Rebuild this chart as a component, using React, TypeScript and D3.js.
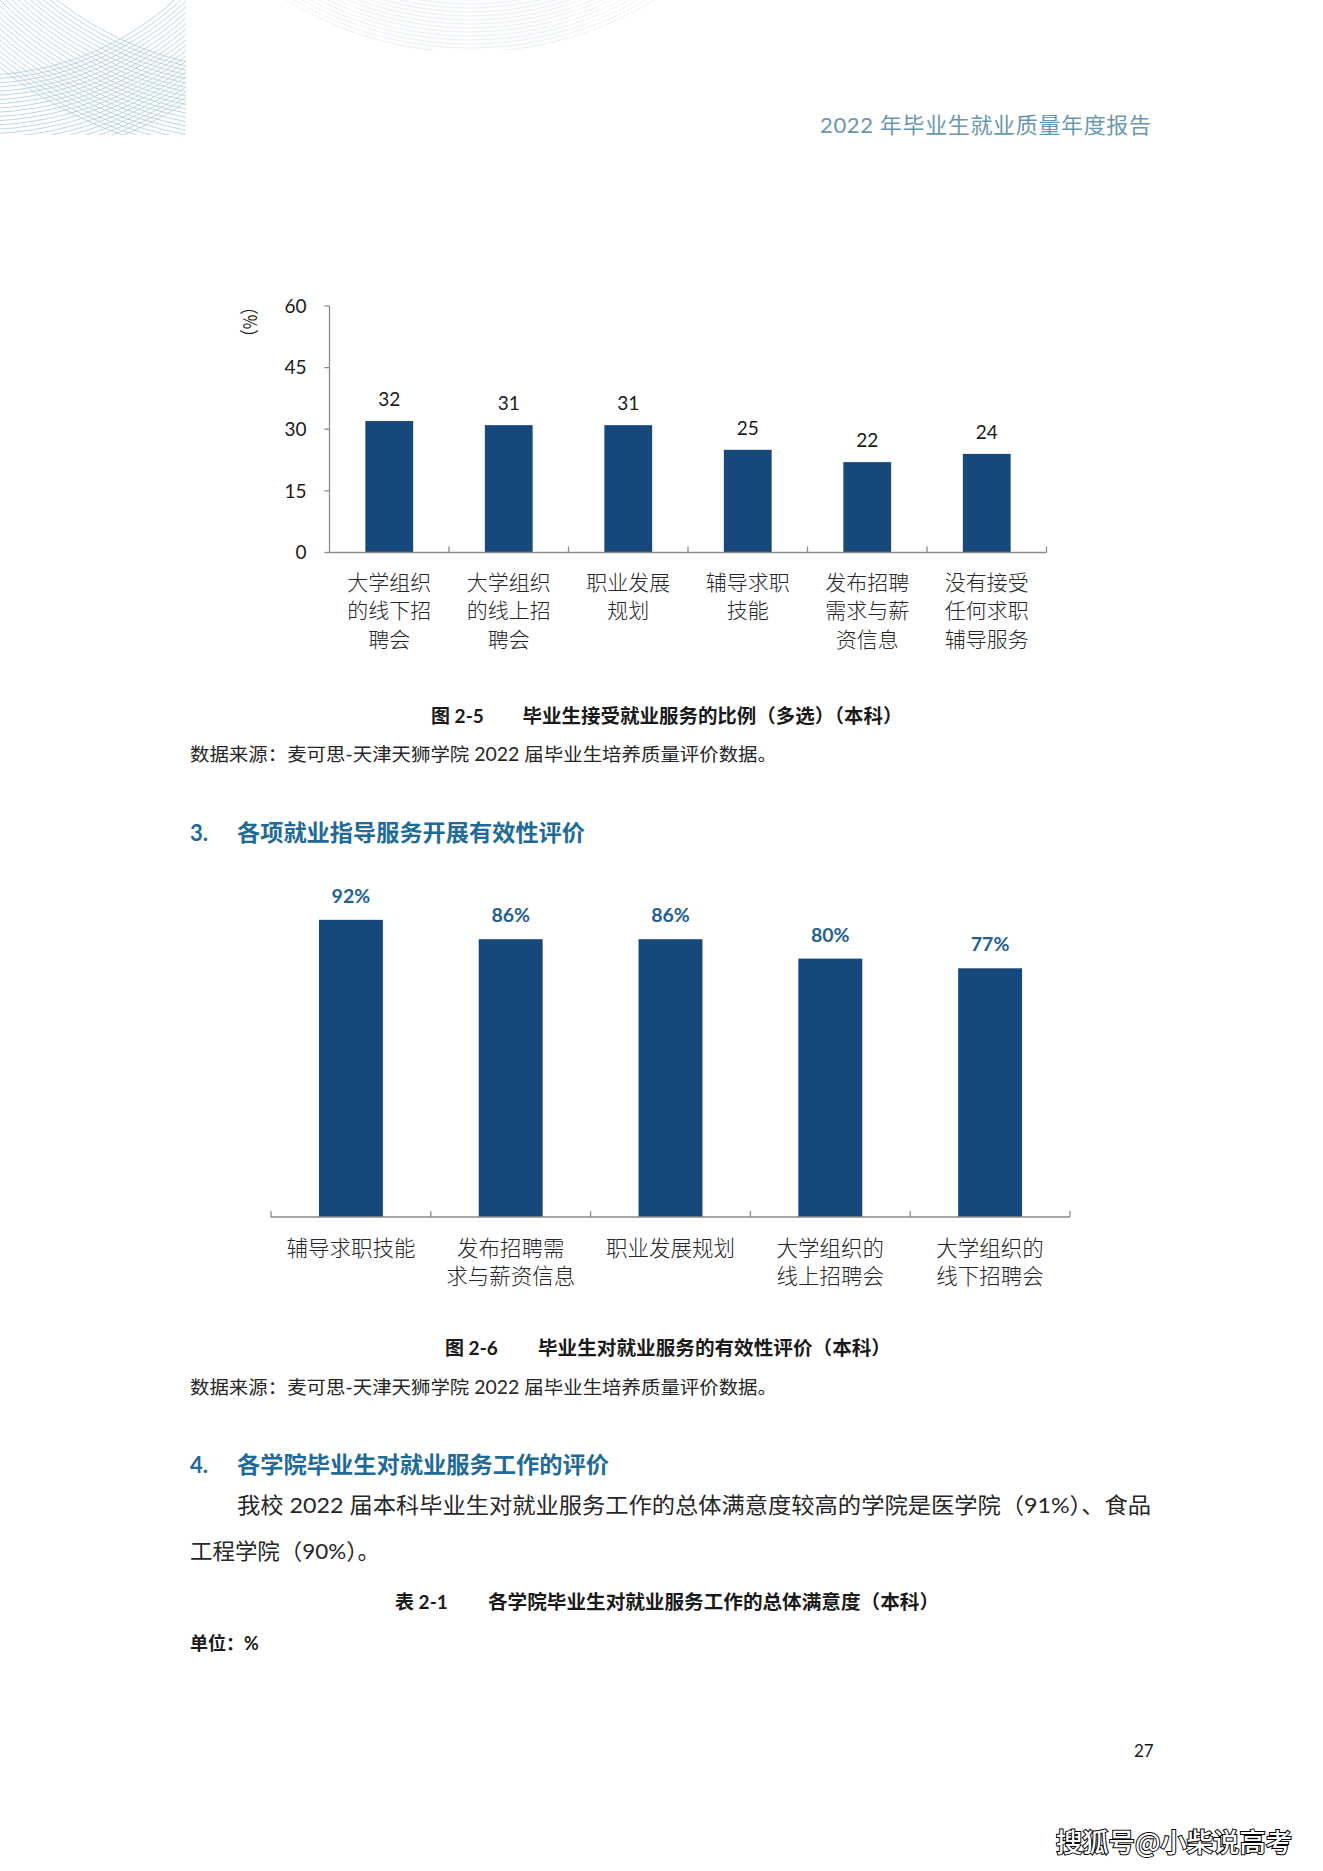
import React from "react";
import * as d3 from "d3";

// ---------- data ----------
const chart1Categories: string[][] = [
  ["大学组织", "的线下招", "聘会"],
  ["大学组织", "的线上招", "聘会"],
  ["职业发展", "规划"],
  ["辅导求职", "技能"],
  ["发布招聘", "需求与薪", "资信息"],
  ["没有接受", "任何求职", "辅导服务"],
];
const chart1Values: number[] = [32, 31, 31, 25, 22, 24];
const chart1Ticks: number[] = [0, 15, 30, 45, 60];

const chart2Categories: string[][] = [
  ["辅导求职技能"],
  ["发布招聘需", "求与薪资信息"],
  ["职业发展规划"],
  ["大学组织的", "线上招聘会"],
  ["大学组织的", "线下招聘会"],
];
const chart2Values: number[] = [92, 86, 86, 80, 77];

// ---------- style ----------
const BAR = "#17487b";
const AXIS = "#8a8a8a";
const TEAL = "#1e6a98";
const CJK = "'Noto Sans CJK SC', 'Noto Sans', sans-serif";
const MIX = "Lato, 'Noto Sans CJK SC', sans-serif";

function Decoration() {
  const famA = d3.range(0, 22).map((i) => 290 + i * 4.2);
  const famB = d3.range(0, 22).map((i) => 330 + i * 4.2);
  const famC = d3.range(0, 14).map((i) => 300 + i * 4);
  return (
    <g>
      <defs>
        <clipPath id="decoClip">
          <rect x={0} y={0} width={186} height={135} />
        </clipPath>
        <clipPath id="decoClip2">
          <rect x={200} y={0} width={600} height={50} />
        </clipPath>
      </defs>
      <g clipPath="url(#decoClip)" fill="none" stroke="#9fc3da" strokeWidth={0.8} opacity={0.85}>
        {famA.map((r, i) => (
          <circle key={"a" + i} cx={-20} cy={-215} r={r} />
        ))}
        {famB.map((r, i) => (
          <circle key={"b" + i} cx={260} cy={-260} r={r} />
        ))}
      </g>
      <g clipPath="url(#decoClip2)" fill="none" stroke="#dde9f1" strokeWidth={0.8} opacity={0.8}>
        {famC.map((r, i) => (
          <circle key={"c" + i} cx={470} cy={-300} r={r} />
        ))}
      </g>
    </g>
  );
}

function Chart1() {
  const x0 = 329.5,
    x1 = 1046.5,
    yZero = 552.5,
    yTop = 306;
  const x = d3
    .scaleBand<number>()
    .domain(d3.range(chart1Values.length))
    .range([x0, x1])
    .paddingInner(0.6)
    .paddingOuter(0.3);
  const y = d3.scaleLinear().domain([0, 60]).range([yZero, yTop]);
  const step = x.step();
  return (
    <g>
      {/* y axis */}
      <line x1={x0} x2={x0} y1={yTop} y2={yZero} stroke={AXIS} strokeWidth={1.3} />
      {chart1Ticks.map((t) => (
        <g key={t}>
          <line x1={x0 - 5} x2={x0} y1={y(t)} y2={y(t)} stroke={AXIS} strokeWidth={1.3} />
          <text
            x={306.5}
            y={y(t)}
            dy="0.35em"
            textAnchor="end"
            fontFamily={MIX}
            fontSize={19}
            fill="#1a1a1a"
          >
            {t}
          </text>
        </g>
      ))}
      <text
        transform={`translate(250,322) rotate(-90)`}
        textAnchor="middle"
        dy="0.35em"
        fontFamily={CJK}
        fontSize={19}
        fill="#1a1a1a"
        textLength={46}
        lengthAdjust="spacingAndGlyphs"
      >
        （%）
      </text>
      {/* bars */}
      {chart1Values.map((v, i) => (
        <g key={i}>
          <rect x={x(i)!} y={y(v)} width={x.bandwidth()} height={yZero - y(v)} fill={BAR} />
          <text
            x={x(i)! + x.bandwidth() / 2}
            y={y(v) - 15}
            textAnchor="middle"
            fontFamily={MIX}
            fontSize={19}
            fill="#1a1a1a"
          >
            {v}
          </text>
          {chart1Categories[i].map((line, j) => (
            <text
              key={j}
              x={x(i)! + x.bandwidth() / 2}
              y={582 + j * 28.6}
              dy="0.36em"
              textAnchor="middle"
              fontFamily={CJK}
              fontWeight={300}
              fontSize={21}
              fill="#262626"
            >
              {line}
            </text>
          ))}
        </g>
      ))}
      {/* x axis */}
      <line x1={x0} x2={x1} y1={yZero} y2={yZero} stroke={AXIS} strokeWidth={1.5} />
      {d3.range(1, chart1Values.length + 1).map((k) => (
        <line
          key={k}
          x1={x0 + k * step}
          x2={x0 + k * step}
          y1={yZero - 6}
          y2={yZero}
          stroke={AXIS}
          strokeWidth={1.3}
        />
      ))}
    </g>
  );
}

function Chart2() {
  const x0 = 271,
    x1 = 1070,
    yZero = 1217,
    yTop = 894;
  const x = d3
    .scaleBand<number>()
    .domain(d3.range(chart2Values.length))
    .range([x0, x1])
    .paddingInner(0.6)
    .paddingOuter(0.3);
  const y = d3.scaleLinear().domain([0, 100]).range([yZero, yTop]);
  const step = x.step();
  return (
    <g>
      {chart2Values.map((v, i) => (
        <g key={i}>
          <rect x={x(i)!} y={y(v)} width={x.bandwidth()} height={yZero - y(v)} fill={BAR} />
          <text
            x={x(i)! + x.bandwidth() / 2}
            y={y(v) - 17}
            textAnchor="middle"
            fontFamily={MIX}
            fontWeight={700}
            fontSize={19.5}
            fill="#1f6293"
          >
            {v}%
          </text>
          {chart2Categories[i].map((line, j) => (
            <text
              key={j}
              x={x(i)! + x.bandwidth() / 2}
              y={1248 + j * 28.5}
              dy="0.36em"
              textAnchor="middle"
              fontFamily={CJK}
              fontWeight={300}
              fontSize={21.5}
              fill="#262626"
            >
              {line}
            </text>
          ))}
        </g>
      ))}
      <line x1={x0} x2={x1} y1={yZero} y2={yZero} stroke={AXIS} strokeWidth={1.5} />
      {d3.range(0, chart2Values.length + 1).map((k) => (
        <line
          key={k}
          x1={x0 + k * step}
          x2={x0 + k * step}
          y1={yZero - 6}
          y2={yZero}
          stroke={AXIS}
          strokeWidth={1.3}
        />
      ))}
    </g>
  );
}

export default function App() {
  return (
    <svg
      width={1323}
      height={1871}
      style={{ position: "absolute", left: 0, top: 0, background: "#fff" }}
    >
      <rect x={0} y={0} width={1323} height={1871} fill="#fff" />
      <Decoration />
      <text
        x={1151}
        y={133}
        textAnchor="end"
        fontFamily={MIX}
        fontSize={22}
        fill="#6a97ae"
        textLength={331}
        lengthAdjust="spacing"
      >
        2022 年毕业生就业质量年度报告
      </text>

      <Chart1 />

      {/* caption 2-5 */}
      <text x={431} y={723} fontFamily={MIX} fontWeight={700} fontSize={19} fill="#1a1a1a">
        图 2-5
      </text>
      <text
        x={522.5}
        y={723}
        fontFamily={MIX}
        fontWeight={700}
        fontSize={19}
        fill="#1a1a1a"
        textLength={380}
        lengthAdjust="spacingAndGlyphs"
      >
        毕业生接受就业服务的比例（多选）（本科）
      </text>
      <text
        x={190}
        y={761}
        fontFamily={MIX}
        fontSize={18.5}
        fill="#262626"
        textLength={587}
        lengthAdjust="spacingAndGlyphs"
      >
        数据来源：麦可思-天津天狮学院 2022 届毕业生培养质量评价数据。
      </text>

      <text x={190} y={841} fontFamily={MIX} fontWeight={700} fontSize={22} fill={TEAL}>
        3.
      </text>
      <text
        x={237}
        y={841}
        fontFamily={MIX}
        fontWeight={700}
        fontSize={22.5}
        fill={TEAL}
        textLength={348}
        lengthAdjust="spacingAndGlyphs"
      >
        各项就业指导服务开展有效性评价
      </text>

      <Chart2 />

      <text x={445} y={1355} fontFamily={MIX} fontWeight={700} fontSize={19} fill="#1a1a1a">
        图 2-6
      </text>
      <text
        x={538}
        y={1355}
        fontFamily={MIX}
        fontWeight={700}
        fontSize={19}
        fill="#1a1a1a"
        textLength={353}
        lengthAdjust="spacingAndGlyphs"
      >
        毕业生对就业服务的有效性评价（本科）
      </text>
      <text
        x={190}
        y={1394}
        fontFamily={MIX}
        fontSize={18.5}
        fill="#262626"
        textLength={587}
        lengthAdjust="spacingAndGlyphs"
      >
        数据来源：麦可思-天津天狮学院 2022 届毕业生培养质量评价数据。
      </text>

      <text x={190} y={1473} fontFamily={MIX} fontWeight={700} fontSize={22} fill={TEAL}>
        4.
      </text>
      <text
        x={237}
        y={1473}
        fontFamily={MIX}
        fontWeight={700}
        fontSize={22.5}
        fill={TEAL}
        textLength={372}
        lengthAdjust="spacingAndGlyphs"
      >
        各学院毕业生对就业服务工作的评价
      </text>
      <text
        x={237}
        y={1513}
        fontFamily={MIX}
        fontSize={22}
        fill="#262626"
        textLength={914}
        lengthAdjust="spacingAndGlyphs"
      >
        我校 2022 届本科毕业生对就业服务工作的总体满意度较高的学院是医学院（91%）、食品
      </text>
      <text
        x={190}
        y={1559}
        fontFamily={MIX}
        fontSize={22}
        fill="#262626"
        textLength={190}
        lengthAdjust="spacingAndGlyphs"
      >
        工程学院（90%）。
      </text>

      <text x={395} y={1609} fontFamily={MIX} fontWeight={700} fontSize={19} fill="#1a1a1a">
        表 2-1
      </text>
      <text
        x={488}
        y={1609}
        fontFamily={MIX}
        fontWeight={700}
        fontSize={19}
        fill="#1a1a1a"
        textLength={451}
        lengthAdjust="spacingAndGlyphs"
      >
        各学院毕业生对就业服务工作的总体满意度（本科）
      </text>
      <text x={190} y={1650} fontFamily={MIX} fontWeight={700} fontSize={18} fill="#1a1a1a">
        单位：%
      </text>

      <text x={1134} y={1757} fontFamily={MIX} fontSize={17} fill="#1a1a1a">
        27
      </text>

      <text
        x={1056}
        y={1852}
        fontFamily={CJK}
        fontWeight={500}
        fontSize={26}
        fill="#fff"
        stroke="#000"
        strokeWidth={2}
        paintOrder="stroke"
        textLength={236}
        lengthAdjust="spacingAndGlyphs"
      >
        搜狐号@小柴说高考
      </text>
    </svg>
  );
}
